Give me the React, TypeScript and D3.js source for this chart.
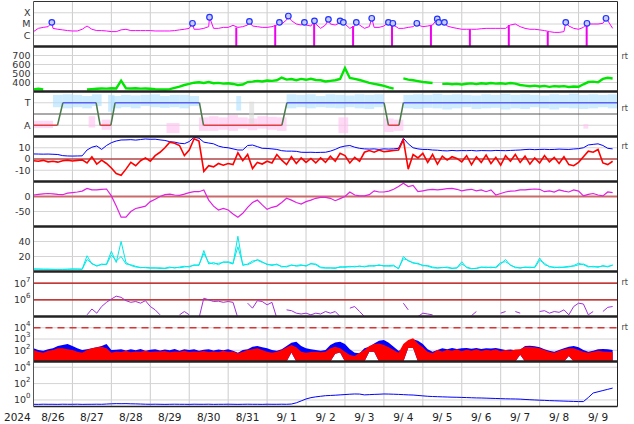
import React from "react";
import { scaleLinear, scaleLog, line, area, range } from "d3";

// 2024-08-26 00UT .. 2024-09-10 00UT, most series sampled every 3 h
const STEP_H = 3;
const yearLabel = "2024";
const dayLabels = ["8/26", "8/27", "8/28", "8/29", "8/30", "8/31", "9/ 1", "9/ 2", "9/ 3", "9/ 4", "9/ 5", "9/ 6", "9/ 7", "9/ 8", "9/ 9"];

// X-ray flux, in units of 1e-6 W/m2 (C class)
const xrayC = [
  2.1, 4.1, 5.0, 5.8, 4.1, 3.4, 3.0, 2.6, 2.4, 2.4,
  3.4, 6.6, 3.4, 2.6, 2.6, 2.4, 2.1, 2.1, 3.0, 3.4,
  2.6, 2.6, 2.6, 2.6, 2.6, 2.4, 2.4, 2.4, 2.4, 2.6,
  3.0, 3.4, 4.1, 3.4, 3.4, 4.1, 5.8, 4.1, 4.1, 5.0,
  5.0, 7.6, 5.0, 5.8, 8.1, 6.6, 5.8, 5.0, 5.0, 5.8,
  8.1, 10, 23, 20, 10, 8.1, 8.1, 6.6, 10, 4.1,
  8.1, 10, 8.1, 13, 10, 4.1, 6.6, 8.1, 4.1, 5.8,
  5.0, 5.0, 6.6, 11.5, 8.1, 4.1, 4.1, 5.0, 5.8, 8.1,
  5.8, 6.6, 8.1, 16, 10, 6.6, 5.0, 4.1, 3.4, 3.4,
  3.4, 3.4, 3.8, 4.1, 4.1, 4.1, 4.1, 4.1, 8.1, 10,
  5.8, 4.1, 3.4, 3.4, 3.0, 2.6, 2.1, 1.8, 1.8, 2.1,
  6.6, 4.1, 3.4, 5.0, 10, 10, 10, 11.5, 20, 4.1,
];
// M-class flare peaks: [hour, flux in 1e-6 W/m2]
const flares: [number, number][] = [
  [11.3, 14], [98, 11.5], [108.5, 40], [133.1, 17], [151.6, 14], [157.1, 51], [167, 14], [173.2, 19],
  [181.8, 26], [189, 19], [191, 14], [199, 14], [208.5, 32], [218.8, 14], [221.5, 11.5], [236.3, 11.5],
  [248.9, 28], [249.8, 14], [253.3, 14], [328.1, 14], [341.2, 11.5], [352.9, 32],
];
const xrayGapHours = [125, 149, 173, 197, 221, 245, 269, 293, 317, 341];

// solar wind speed, km/s
const speed: (number | null)[] = [
  324, 330, 322, null, null, null, null, null, null, null,
  null, 322, 326, 330, 334, 332, 336, 334, 420, 336,
  333, 336, 332, 334, 330, 326, 324, 322, 326, 340,
  355, 372, 385, 398, 402, 395, 405, 392, 396, 388,
  392, 384, 372, 378, 405, 410, 418, 412, 422, 418,
  425, 455, 432, 438, 425, 440, 430, 442, 428, 425,
  412, 418, 425, 440, 560, 450, 440, 428, 412, 395,
  385, 375, 362, 345, 332, null, 445, 432, 425, 415,
  405, 400, 395, null, 385, 388, 380, 385, 378, 386,
  390, 382, 392, 386, 395, 388, 392, 385, 395, 388,
  372, 365, 358, 365, 355, 362, 352, 360, 355, 360,
  350, 356, 352, 380, 405, 410, 402, 440, 452, 445,
];

// IMF sector: [hour, +1 toward / -1 away]
const sector: [number, number][] = [
  [0, -1], [14.8, -1], [18.1, 1], [38.6, 1], [41.1, -1], [47.7, -1], [50.3, 1], [102.3, 1],
  [104.8, -1], [153.1, -1], [156.2, 1], [216.1, 1], [218.8, -1], [225.3, -1], [228, 1], [360, 1],
];
// IMF angle spread per 6 h bin (sector units)
const phiLo = [
  -1.25, -1.25, 0.6, 0.5, 0.6, 0.5, 0.7, -1.4, 0.5, 0.6,
  0.5, 0.7, 0.6, 0.55, 0.6, 0.5, 0.7, -1.5, -1.5, -1.4,
  -1.5, -1.3, -1.45, -1.3, -1.4, -1.5, 0.5, 0.6, 0.5, 0.6,
  0.55, 0.5, 0.6, 0.5, 0.45, 0.6, -1.6, -1.5, 0.5, 0.45,
  0.55, 0.5, 0.4, 0.5, 0.6, 0.45, 0.5, 0.55, 0.4, 0.5,
  0.45, 0.6, 0.5, 0.4, 0.55, 0.5, 0.45, 0.5, 0.6, 0.5,
];
const phiHi = [
  -0.6, -0.6, 1.7, 1.75, 1.7, 1.6, 1.75, -0.5, 1.6, 1.7,
  1.65, 1.7, 1.75, 1.6, 1.7, 1.7, 1.6, -0.3, -0.2, -0.3,
  -0.1, -0.3, -0.4, -0.2, -0.25, -0.3, 1.75, 1.7, 1.75, 1.6,
  1.75, 1.7, 1.65, 1.75, 1.7, 1.75, -0.4, -0.5, 1.7, 1.75,
  1.7, 1.8, 1.7, 1.75, 1.7, 1.65, 1.75, 1.7, 1.8, 1.7,
  1.75, 1.7, 1.65, 1.75, 1.7, 1.8, 1.7, 1.75, 1.7, 1.75,
];
// stray angle points: [startHour, endHour, lo, hi]
const phiStray: [number, number, number, number][] = [
  [34, 38, -1.2, -0.2], [46, 50, 0.2, 1.7], [82, 90, -1.7, -0.8], [125, 128, 0.3, 1.6],
  [133, 136, -0.9, 1.1], [188, 194, -1.7, -0.3], [339, 342, -1.3, -0.9],
];

// IMF |B| and Bz, nT
const bt = [
  4.5, 4.4, 4.3, 4.4, 4.2, 4.0, 3.0, 2.7, 2.6, 2.7,
  2.8, 8.0, 10.5, 11.6, 8.5, 12.0, 14.5, 16.0, 16.9, 17.0,
  17.2, 16.8, 17.3, 17.8, 17.5, 17.6, 17.0, 16.5, 15.4, 15.0,
  14.0, 13.6, 15.5, 19.3, 18.5, 15.0, 14.2, 13.5, 11.5, 10.4,
  10.0, 9.0, 8.0, 8.0, 12.0, 12.4, 11.0, 9.5, 9.4, 9.0,
  8.5, 7.4, 7.0, 7.0, 6.8, 6.0, 5.9, 6.0, 5.8, 5.9,
  6.0, 7.0, 8.5, 10.5, 11.5, 12.0, 10.5, 9.5, 9.0, 8.8,
  9.0, 8.5, 9.0, 8.8, 9.0, 9.5, 18.5, 13.5, 10.0, 9.0,
  8.5, 8.5, 8.0, 7.8, 7.4, 7.2, 7.6, 7.3, 7.5, 7.4,
  7.6, 7.2, 7.5, 7.4, 7.3, 7.6, 7.5, 7.4, 7.6, 7.8,
  8.0, 8.4, 8.6, 8.3, 8.5, 8.6, 8.4, 8.5, 8.8, 8.6,
  8.5, 8.9, 9.2, 10.0, 12.5, 13.0, 13.5, 12.0, 9.5, 9.0,
];
const bz = [
  -1.5, -2.0, -1.2, -2.5, -2.0, -2.8, -1.5, -1.0, -1.8, -1.2,
  -0.8, -3.5, 2.0, -4.5, -1.0, -4.0, -8.0, -13.0, -14.5, -9.0,
  -3.0, -6.0, -1.5, 1.0, -2.0, 3.0, 6.0, 10.0, 15.0, 14.0,
  12.0, 3.0, 8.0, 18.0, 16.0, -11.0, -6.0, -7.0, -4.0, -5.5,
  -4.0, -5.0, 5.5, -1.5, 4.0, -8.5, -3.0, -4.5, -2.0, -3.5,
  4.0, -1.0, -5.0, 2.0, -4.0, 1.0, -3.0, 0.5, -3.5, 1.0,
  -3.0, 2.5, -2.0, 5.0, 3.0, -3.5, 1.5, -2.0, 6.0, 7.5,
  6.0, 8.0, 6.5, 7.0, 7.5, 8.0, 17.0, -9.0, 4.0, 1.0,
  5.0, -3.0, 4.0, -4.5, 2.5, -1.0, 2.0, 0.5, -2.5, 3.0,
  -5.0, 2.0, -3.0, 3.5, -4.0, 1.5, -5.5, 3.0, -2.0, 4.0,
  -3.0, 2.5, -4.5, 1.0, -3.5, 3.0, -2.5, 1.5, -4.0, 2.0,
  -5.0, -6.0, -3.0, 2.0, 7.0, 6.0, 8.5, -3.5, -5.0, -2.0,
];

// Dst, nT
const dst = [
  5, 7, 9, 10, 9, 7, 6, 11, 13, 15,
  18, 27, 22, 22, 24, 25, 2, -32, -69, -69,
  -50, -40, -36, -32, -17, -9, 0, 6, 8, 5,
  4, 8, 13, 16, 16, 22, -12, -32, -45, -40,
  -45, -58, -69, -56, -36, -20, -12, -28, -43, -36,
  -32, -20, -6, -12, -20, -25, -17, -12, -6, -3,
  -3, -6, -14, -7, 0, 15, 5, 2, 2, 6,
  19, 15, 15, 18, 24, 33, 44, 33, 37, 16,
  19, 22, 24, 22, 24, 26, 27, 24, 19, 22,
  24, 19, 22, 16, 22, 5, 10, 15, 18, 19,
  22, 22, 24, 25, 24, 16, 19, 15, 22, 18,
  15, 22, 18, 2, 7, 10, 5, 2, 15, 13,
];

// geomagnetic activity, two stations
const activityA = [
  3.5, 3.0, 3.2, 2.8, 3.0, 2.5, 3.0, 2.8, 3.5, 3.0,
  3.2, 21, 10, 8, 9, 10, 27, 12, 40, 12,
  8, 6, 5.5, 5, 4.5, 5, 4, 4.5, 6, 4.5,
  6, 7, 6, 9, 8, 28, 10, 12, 9, 13,
  12, 10, 47, 8, 10, 14, 15, 12, 10, 8,
  10, 6, 7, 8, 8, 9, 7, 11, 9, 5,
  4.5, 5, 4, 6.5, 5.5, 7, 6, 7.5, 6, 8,
  7, 9, 7, 8, 8.5, 3.5, 20, 14, 12, 10,
  8.5, 7, 5, 4.5, 5.5, 5, 4, 5, 13, 5,
  3.5, 4.5, 6, 5, 6, 5, 10, 16, 8, 6,
  4.5, 6, 5, 6, 18, 9, 7, 5, 6, 5.5,
  6, 8, 11, 9, 6, 7, 5.5, 8, 6, 9,
];
const activityB = [
  3.0, 3.4, 2.8, 3.2, 2.6, 3.0, 2.6, 3.2, 3.0, 3.4,
  2.8, 16, 11, 7, 10, 9, 22, 14, 20, 10,
  9, 7, 5, 5.5, 5, 4.5, 5, 4, 5, 5.5,
  5, 6, 7, 8, 9, 24, 12, 10, 11, 12,
  13, 11, 33, 10, 9, 12, 16, 13, 9, 9,
  9, 7, 6, 9, 7, 8, 8, 10, 10, 6,
  5, 4.5, 5, 5.5, 6.5, 6, 7, 6.5, 7, 7,
  8, 8, 8, 7, 7.5, 4, 17, 15, 11, 11,
  7.5, 8, 6, 5, 5, 6, 4.5, 4.5, 10, 6,
  4, 4, 5.5, 6, 5, 6, 12, 13, 9, 5,
  5, 5.5, 6, 5, 15, 11, 6, 6, 5, 6,
  7, 7, 9, 10, 7, 6, 6.5, 7, 7, 8,
];

// electron flux, log10
const electronLog: (number | null)[] = [
  null, null, null, null, null, null, null, null, null, null,
  null, 5.1, 5.45, 5.2, 5.6, 5.85, 6.05, 6.22, 6.15, 5.95,
  5.85, 5.9, 5.8, 5.95, 5.6, 5.4, 5.1, null, null, null,
  5.1, 5.3, 5.1, null, 4.9, 6.1, 6.0, 5.9, 5.92, 5.85,
  5.9, 5.85, 4.9, null, 5.8, 5.5, 5.95, 5.9, 5.7, 5.85,
  4.9, null, 5.4, 5.35, 5.2, 5.15, 5.2, 5.1, 5.2, 5.15,
  5.3, 5.2, 5.3, 5.0, null, 5.5, 5.6, 5.3, 5.0, null,
  null, null, null, null, null, null, 5.8, 5.4, null, 5.0,
  5.2, 5.15, 5.1, null, null, null, null, null, 5.1, null,
  5.05, 5.3, null, null, null, null, 5.2, 5.3, null, 5.3,
  5.2, null, 5.1, null, 5.3, 5.35, 5.2, 5.3, 5.25, 5.4,
  5.1, 5.6, 5.8, 5.75, 5.1, 5.3, null, 5.3, 5.55, 5.6,
];

// proton flux envelopes, log10 (blue and red channels)
const blueHi = [
  2.17, 2.02, 1.96, 2.08, 2.17, 2.38, 2.47, 2.56, 2.38, 2.17,
  2.02, 2.08, 2.17, 2.26, 2.38, 2.56, 2.02, 2.05, 2.1, 1.98,
  2.08, 2.0, 2.12, 1.95, 2.05, 2.1, 1.98, 2.06, 2.0, 2.12,
  1.96, 2.08, 2.02, 2.1, 1.95, 2.05, 2.1, 1.98, 2.06, 2.0,
  2.08, 1.96, 1.78, 2.02, 2.08, 2.32, 2.38, 2.26, 2.17, 2.02,
  1.96, 2.08, 2.38, 2.66, 2.76, 2.38, 2.17, 2.08, 2.02, 1.95,
  2.02, 2.47, 2.7, 2.76, 2.56, 2.08, 1.78, 1.73, 2.17, 2.32,
  2.61, 2.85, 2.91, 2.66, 2.32, 1.96, 2.08, 2.85, 2.97, 2.85,
  2.56, 2.08, 1.87, 2.02, 2.17, 2.1, 2.2, 2.12, 2.18, 2.2,
  2.14, 2.2, 2.12, 2.18, 2.15, 2.2, 2.12, 2.02, 2.06, 2.0,
  2.05, 2.38, 2.4, 2.35, 2.26, 2.08, 1.96, 1.87, 2.02, 2.17,
  2.32, 2.38, 2.26, 2.02, 1.87, 1.96, 2.08, 2.12, 2.08, 2.02,
];
const redHi = [
  2.02, 1.87, 1.78, 1.96, 2.02, 2.17, 2.17, 2.08, 2.02, 1.87,
  1.78, 2.02, 2.17, 2.26, 2.32, 2.17, 1.78, 1.9, 1.85, 1.95,
  1.82, 1.9, 1.86, 1.96, 1.84, 1.9, 1.88, 1.94, 1.82, 1.9,
  1.86, 1.95, 1.84, 1.9, 1.87, 1.93, 1.85, 1.9, 1.84, 1.95,
  1.86, 1.9, 1.73, 1.87, 2.02, 2.08, 2.17, 2.02, 1.87, 1.78,
  1.87, 2.02, 2.26, 2.47, 2.26, 1.87, 1.78, 1.85, 1.87, 1.82,
  1.87, 2.17, 2.32, 2.17, 1.87, 1.58, 1.49, 1.78, 2.02, 2.38,
  2.56, 2.61, 2.47, 2.26, 2.02, 1.78, 2.56, 2.91, 3.06, 2.61,
  2.26, 1.87, 1.73, 2.02, 1.9, 2.05, 1.95, 2.08, 1.92, 2.06,
  1.96, 2.1, 1.94, 2.04, 1.98, 2.08, 1.92, 2.02, 1.96, 2.06,
  2.1, 2.32, 2.3, 2.26, 2.17, 2.02, 1.87, 1.78, 1.96, 2.08,
  2.17, 2.17, 2.02, 1.87, 1.78, 1.87, 1.96, 1.9, 1.87, 1.84,
];
const protonLo = [
  1, 1, 1, 1, 1, 1, 1, 1, 1, 1,
  1, 1, 1, 1, 1, 1, 1, 1, 1, 1,
  1, 1, 1, 1, 1, 1, 1, 1, 1, 1,
  1, 1, 1, 1, 1, 1, 1, 1, 1, 1,
  1, 1, 1, 1, 1, 1, 1, 1, 1, 1,
  1, 1, 1, 1.8, 1, 1, 1, 1, 1, 1,
  1, 1, 1.7, 1.8, 1, 1, 1, 1, 1, 1.87,
  1.87, 1, 1, 1, 1, 1, 1, 2.2, 2.2, 1,
  1, 1, 1, 1, 1, 1, 1, 1, 1, 1,
  1, 1, 1, 1, 1, 1, 1, 1, 1, 1,
  1.6, 1, 1, 1, 1, 1, 1, 1, 1, 1,
  1.5, 1, 1, 1, 1, 1, 1, 1, 1, 1,
];

// high energy flux, log10
const highLog = [
  -0.53, -0.54, -0.52, -0.53, -0.53, -0.54, -0.52, -0.53, -0.53, -0.52,
  -0.54, -0.53, -0.53, -0.52, -0.53, -0.5, -0.47, -0.45, -0.46, -0.45,
  -0.47, -0.48, -0.5, -0.52, -0.53, -0.52, -0.53, -0.54, -0.53, -0.52,
  -0.53, -0.53, -0.54, -0.52, -0.53, -0.53, -0.52, -0.54, -0.53, -0.53,
  -0.52, -0.53, -0.54, -0.53, -0.52, -0.53, -0.53, -0.54, -0.52, -0.53,
  -0.53, -0.52, -0.53, -0.5, -0.35, -0.12, 0.12, 0.28, 0.38, 0.45,
  0.52, 0.55, 0.58, 0.62, 0.66, 0.7, 0.73, 0.72, 0.62, 0.65,
  0.68, 0.7, 0.73, 0.72, 0.7, 0.68, 0.65, 0.62, 0.6, 0.55,
  0.5, 0.45, 0.42, 0.4, 0.38, 0.36, 0.34, 0.33, 0.31, 0.29,
  0.27, 0.25, 0.24, 0.22, 0.2, 0.18, 0.16, 0.14, 0.13, 0.12,
  0.1, 0.06, 0.03, 0.0, -0.03, -0.05, -0.08, -0.1, -0.12, -0.14,
  -0.16, -0.18, -0.2, -0.2, 0.3, 0.85, 1.0, 1.15, 1.3, 1.45,
];

const W = 634;
const H = 424;
const L = 33.5;
const R = 617.5;
const TOP = 1.5;
const PH = 45;
const FONT = "DejaVu Sans, sans-serif";

const top = (i: number) => TOP + i * PH;
const bot = (i: number) => TOP + (i + 1) * PH;

const x = scaleLinear().domain([0, dayLabels.length * 24]).range([L, R]);

const yX = scaleLog().domain([1e-7, 1e-3]).range([bot(0), top(0)]);
const yV = scaleLinear().domain([300, 800]).range([bot(1), top(1)]);
const yS = scaleLinear().domain([-2, 2]).range([bot(2), top(2)]);
const yB = scaleLinear().domain([-20, 20]).range([bot(3), top(3)]);
const yD = scaleLinear().domain([-100, 50]).range([bot(4), top(4)]);
const yK = scaleLinear().domain([0, 60]).range([bot(5), top(5)]);
const yE = scaleLog().domain([1e5, 10 ** 7.7]).range([bot(6), top(6)]);
const yP = scaleLog().domain([10, 1e5]).range([bot(7), top(7)]);
const yH = scaleLog().domain([10 ** -0.8, 10 ** 4.7]).range([bot(8), top(8)]);

type Pt = [number, number | null];
const regular = (vals: (number | null)[]): Pt[] => vals.map((v, k) => [k * STEP_H, v]);
const path = (ys: (v: number) => number, pts: Pt[]) =>
  line<Pt>()
    .defined((d) => d[1] != null)
    .x((d) => x(d[0]))
    .y((d) => ys(d[1] as number))(pts) || "";

const band = (ys: (v: number) => number, lo: number[], hi: number[]) =>
  area<number>()
    .x((k) => x(k * STEP_H))
    .y0((k) => ys(lo[k]))
    .y1((k) => ys(hi[k]))(range(hi.length)) || "";

type Tick = { p: number; y: number; text: string; sup?: string };
const ticks: Tick[] = [
  { p: 0, y: yX(1e-4), text: "X" }, { p: 0, y: yX(1e-5), text: "M" }, { p: 0, y: yX(1e-6), text: "C" },
  ...[700, 600, 500, 400].map((v) => ({ p: 1, y: yV(v), text: String(v) })),
  { p: 2, y: yS(1), text: "T" }, { p: 2, y: yS(-1), text: "A" },
  { p: 3, y: yB(10), text: "10" }, { p: 3, y: yB(0), text: "0" }, { p: 3, y: yB(-10), text: "-10" },
  { p: 4, y: yD(0), text: "0" }, { p: 4, y: yD(-50), text: "-50" },
  { p: 5, y: yK(40), text: "40" }, { p: 5, y: yK(20), text: "20" },
  { p: 6, y: yE(1e7), text: "10", sup: "7" }, { p: 6, y: yE(1e6), text: "10", sup: "6" },
  { p: 7, y: yP(1e4), text: "10", sup: "4" }, { p: 7, y: yP(1e3), text: "10", sup: "3" }, { p: 7, y: yP(1e2), text: "10", sup: "2" },
  { p: 8, y: yH(1e4), text: "10", sup: "4" }, { p: 8, y: yH(1e2), text: "10", sup: "2" }, { p: 8, y: yH(1), text: "10", sup: "0" },
];
const rtLabelY = [56.5, 108, 146, 282, 327];

const App = () => {
  const xraySeries: Pt[] = [...regular(xrayC), ...flares].sort((a, b) => a[0] - b[0]);
  const xrayY = (v: number) => yX(v * 1e-6);
  const pow = (s: (v: number) => number) => (v: number) => s(10 ** v);

  return (
    <svg width={W} height={H} style={{ position: "absolute", left: 0, top: 0 }} fontFamily={FONT}>
      <rect width={W} height={H} fill="#fff" />
      <defs>
        {range(9).map((i) => (
          <clipPath id={`clip${i}`} key={i}>
            <rect x={L} y={top(i)} width={R - L} height={PH} />
          </clipPath>
        ))}
      </defs>

      {/* day grid */}
      {dayLabels.map((_, d) =>
        d > 0 ? <line key={d} x1={x(d * 24)} x2={x(d * 24)} y1={TOP} y2={bot(8)} stroke="#cccccc" /> : null
      )}
      {/* horizontal grid */}
      {ticks.map((t, i) => (
        <line key={i} x1={L} x2={R} y1={t.y} y2={t.y} stroke="#d4d4d4" />
      ))}
      <line x1={L} x2={R} y1={yS(0)} y2={yS(0)} stroke="#555" />
      <line x1={L} x2={R} y1={yB(0)} y2={yB(0)} stroke="#a00000" />
      <line x1={L} x2={R} y1={yD(0)} y2={yD(0)} stroke="#cc6a6a" strokeWidth={2} />
      <line x1={L} x2={R} y1={yE(1e7)} y2={yE(1e7)} stroke="#b80000" strokeWidth={1.2} />
      <line x1={L} x2={R} y1={yE(1e6)} y2={yE(1e6)} stroke="#b80000" strokeWidth={1.2} />
      <line x1={L} x2={R} y1={yP(1e4)} y2={yP(1e4)} stroke="#dd3333" strokeWidth={1.5} strokeDasharray="7,5" />

      {/* X-ray */}
      <g clipPath="url(#clip0)">
        {xrayGapHours.map((h) => (
          <line key={h} x1={x(h)} x2={x(h)} y1={xrayY(xrayC[Math.round(h / STEP_H)])} y2={bot(0)} stroke="#ee00ee" strokeWidth={2} />
        ))}
        <path d={path(xrayY, xraySeries)} fill="none" stroke="#ff00ff" strokeWidth={1} />
        {flares.map(([h, v], i) => (
          <circle key={i} cx={x(h)} cy={xrayY(v)} r={2.8} fill="#c8ccff" stroke="#2233ff" strokeWidth={1.2} />
        ))}
      </g>

      {/* solar wind speed */}
      <g clipPath="url(#clip1)">
        <path d={path(yV, regular(speed))} fill="none" stroke="#00e600" strokeWidth={2.4} />
      </g>

      {/* sector */}
      <g clipPath="url(#clip2)">
        {phiHi.map((hi, j) => (
          <rect key={j} x={x(j * 6)} width={x(6) - x(0)} y={yS(hi)} height={yS(phiLo[j]) - yS(hi)}
            fill={hi > 0 ? "#aee0ff" : "#ffc0f0"} fillOpacity={0.6} />
        ))}
        {phiStray.map(([a, b, lo, hi], i) => (
          <rect key={i} x={x(a)} width={x(b) - x(a)} y={yS(hi)} height={yS(lo) - yS(hi)}
            fill={lo > 0 ? "#aee0ff" : hi < 0 ? "#ffc0f0" : "#d8d8d8"} fillOpacity={0.6} />
        ))}
        {sector.slice(1).map((b, i) => {
          const a = sector[i];
          const c = a[1] !== b[1] ? "#4a7a4a" : a[1] > 0 ? "#5a60f0" : "#e04040";
          return <line key={i} x1={x(a[0])} x2={x(b[0])} y1={yS(a[1])} y2={yS(b[1])} stroke={c} strokeWidth={1.5} />;
        })}
      </g>

      {/* IMF */}
      <g clipPath="url(#clip3)">
        <path d={path(yB, regular(bt))} fill="none" stroke="#0000ff" strokeWidth={1} />
        <path d={path(yB, regular(bz))} fill="none" stroke="#ff0000" strokeWidth={1.6} />
      </g>

      {/* Dst */}
      <g clipPath="url(#clip4)">
        <path d={path(yD, regular(dst))} fill="none" stroke="#e020e0" strokeWidth={1.2} />
      </g>

      {/* activity */}
      <g clipPath="url(#clip5)">
        <path d={path(yK, regular(activityB))} fill="none" stroke="#00e8e8" strokeWidth={1} />
        <path d={path(yK, regular(activityA))} fill="none" stroke="#00e8e8" strokeWidth={1} />
      </g>

      {/* electrons */}
      <g clipPath="url(#clip6)">
        <path d={path(pow(yE), regular(electronLog))} fill="none" stroke="#a030d8" strokeWidth={1} />
      </g>

      {/* protons */}
      <g clipPath="url(#clip7)">
        <path d={band(pow(yP), protonLo, blueHi)} fill="#0000ff" />
        <path d={band(pow(yP), protonLo, redHi)} fill="#ff0000" />
      </g>

      {/* high energy */}
      <g clipPath="url(#clip8)">
        <path d={path(pow(yH), regular(highLog))} fill="none" stroke="#0000ff" strokeWidth={1} />
      </g>

      {/* frame */}
      <line x1={L} x2={R} y1={TOP} y2={TOP} stroke="#333" />
      {range(8).map((i) => (
        <line key={i} x1={L} x2={R} y1={bot(i)} y2={bot(i)} stroke="#222" strokeWidth={2.6} />
      ))}
      <line x1={L} x2={R} y1={bot(8)} y2={bot(8)} stroke="#222" strokeWidth={1.6} />
      <line x1={L} x2={L} y1={TOP} y2={bot(8)} stroke="#555" />
      <line x1={R} x2={R} y1={TOP} y2={bot(8)} stroke="#222" />

      {/* y labels */}
      {ticks.map((t, i) => (
        <text key={i} x={30.5} y={t.y} dy="0.36em" textAnchor="end" fontSize={9.5} fill="#333">
          {t.text}
          {t.sup ? (
            <tspan dy={-5} fontSize={7}>
              {t.sup}
            </tspan>
          ) : null}
        </text>
      ))}
      {rtLabelY.map((y, i) => (
        <text key={i} x={621.5} y={y} dy="0.35em" fontSize={8} fill="#444">
          rt
        </text>
      ))}

      {/* x labels */}
      <text x={30.7} y={420.5} textAnchor="end" fontSize={10.5} fill="#222">
        {yearLabel}
      </text>
      {dayLabels.map((s, d) => (
        <text key={s} x={x(d * 24 + 12)} y={420.5} textAnchor="middle" fontSize={10.5} fill="#222" style={{ whiteSpace: "pre" }}>
          {s}
        </text>
      ))}
    </svg>
  );
};

export default App;
